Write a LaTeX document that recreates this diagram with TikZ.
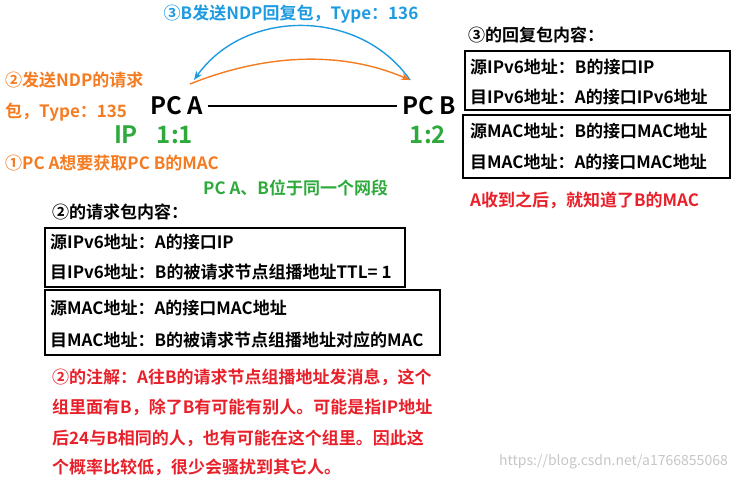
\documentclass[tikz,border=0pt]{standalone}
\usepackage{fontspec}
\usetikzlibrary{arrows.meta}
\setmainfont{Noto Sans CJK SC}[BoldFont={Noto Sans CJK SC Bold}]
\definecolor{bl}{HTML}{1E9BE0}
\definecolor{og}{HTML}{F47B20}
\definecolor{gr}{HTML}{2EAA3C}
\definecolor{rd}{HTML}{E8202A}
\tikzset{t/.style={anchor=west,inner sep=0pt,font=\bfseries\fontsize{17}{19}\selectfont},
 big/.style={inner sep=0pt,font=\bfseries\fontsize{24}{26}\selectfont},
 bx/.style={draw,line width=1.8pt}}
\begin{document}
\begin{tikzpicture}[x=1pt,y=-1pt]
\useasboundingbox (0,0) rectangle (736,479);
\node[t,text=bl,anchor=center] (top) at (291,14) {③B发送NDP回复包，Type：136};
\node[big] (pa) at (177,106) {PC A};
\node[big] (pb) at (429,106) {PC B};
\draw[line width=1.6pt,shorten >=5pt,shorten <=5pt] (pa.east) -- (pb.west);
\coordinate (ba) at (194,80); \coordinate (bb) at (410,80);
\draw[bl,line width=1.4pt,-{Stealth[length=9pt,width=7pt]}] (bb) .. controls (360,8) and (245,8) .. (ba);
\draw[og,line width=1.4pt,-{Stealth[length=9pt,width=7pt]}] (190,84) .. controls (270,52) and (345,52) .. (bb);
\node[t,text=og] (q1) at (5,80) {②发送NDP的请求};
\node[t,text=og] (q2) at (5,112) {包，Type：135};
\node[big,text=gr] (ip) at (126,135) {IP};
\node[big,text=gr] (a1) at (175,135) {1:1};
\node[big,text=gr] (b1) at (428,135) {1:2};
\node[t,text=og] (g1) at (5,163) {①PC A想要获取PC B的MAC};
\node[t,text=gr] (same) at (203,188) {PC A、B位于同一个网段};
\node[t] (r0) at (468,35) {③的回复包内容：};
\draw[bx] (465,51) rectangle (730,110);
\node[t] (r1) at (470,67) {源IPv6地址：B的接口IP};
\node[t] (r2) at (470,97) {目IPv6地址：A的接口IPv6地址};
\draw[bx] (463,115) rectangle (730,178);
\node[t] (r3) at (470,131) {源MAC地址：B的接口MAC地址};
\node[t] (r4) at (470,162) {目MAC地址：A的接口MAC地址};
\node[t,text=rd] (ar) at (470,200) {A收到之后，就知道了B的MAC};
\node[t] (l0) at (52,212) {②的请求包内容：};
\draw[bx] (45,228) rectangle (405,287);
\node[t] (s1) at (50,242) {源IPv6地址：A的接口IP};
\node[t] (s2) at (50,272) {目IPv6地址：B的被请求节点组播地址TTL= 1};
\draw[bx] (45,290) rectangle (440,355);
\node[t] (s3) at (50,308) {源MAC地址：A的接口MAC地址};
\node[t] (s4) at (50,340) {目MAC地址：B的被请求节点组播地址对应的MAC};
\node[t,text=rd] (n1) at (52,377) {②的注解：A往B的请求节点组播地址发消息，这个};
\node[t,text=rd] (n2) at (52,407) {组里面有B，除了B有可能有别人。可能是指IP地址};
\node[t,text=rd] (n3) at (52,438) {后24与B相同的人，也有可能在这个组里。因此这};
\node[t,text=rd] (n4) at (52,467) {个概率比较低，很少会骚扰到其它人。};
\node[anchor=east,inner sep=0pt,text=gray!45,font=\fontsize{14}{16}\selectfont] (wm) at (728,462) {https://blog.csdn.net/a1766855068};
\end{tikzpicture}
\end{document}
